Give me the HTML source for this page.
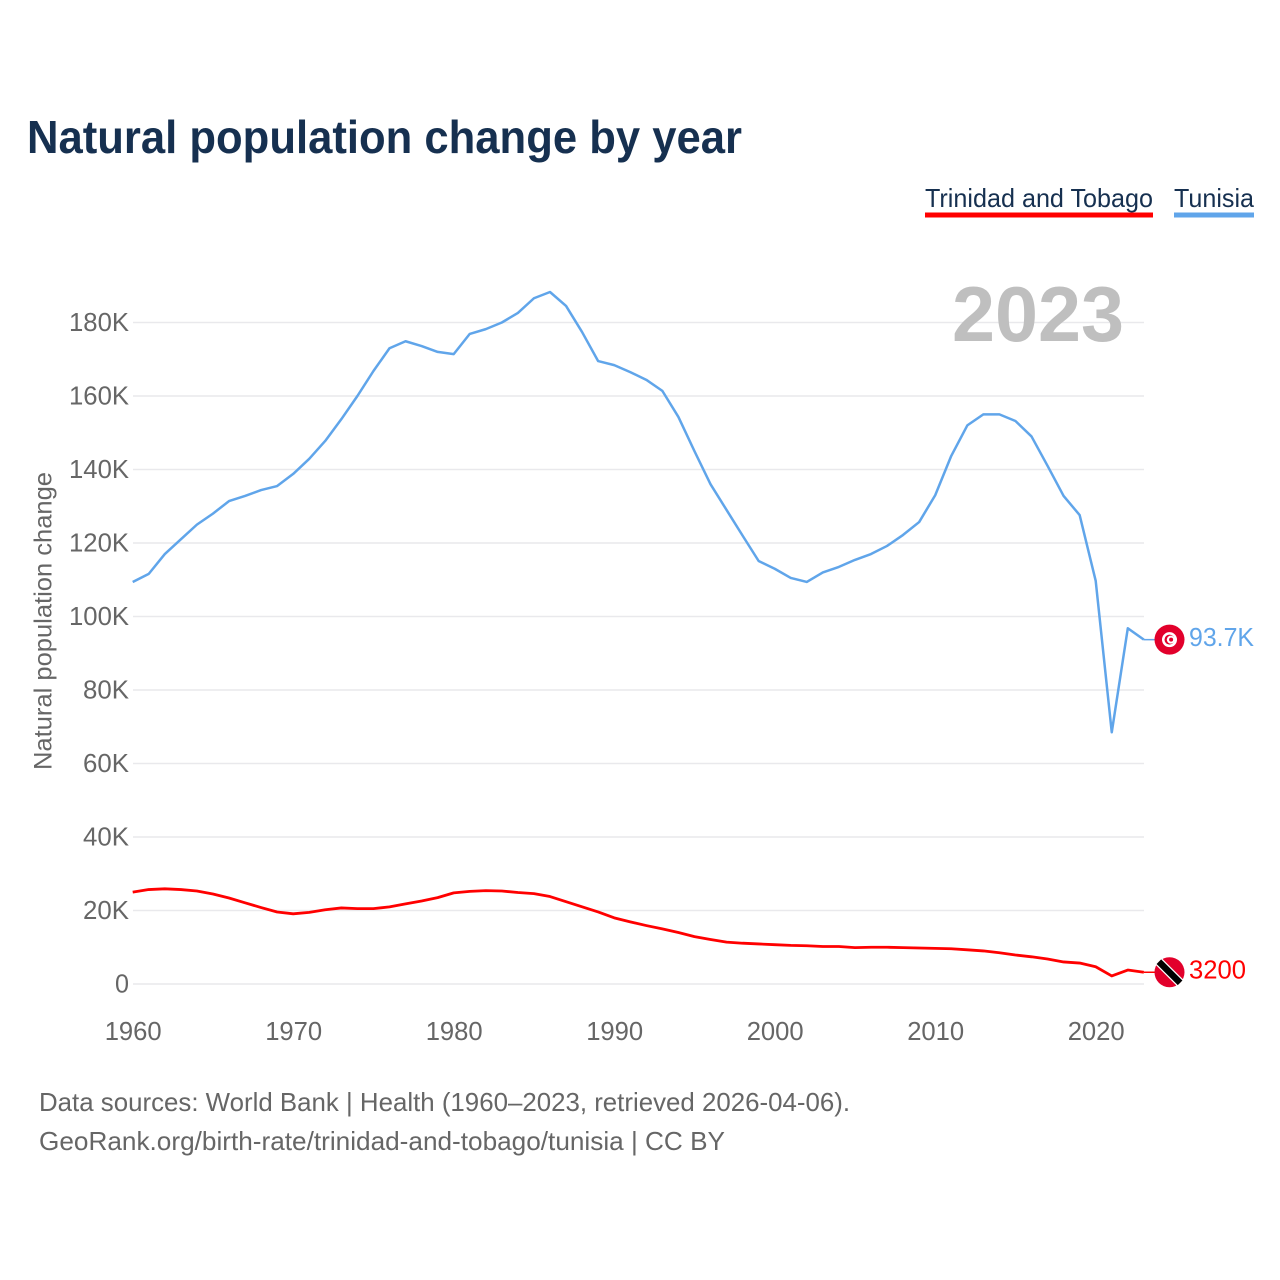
<!DOCTYPE html>
<html lang="en">
<head>
<meta charset="utf-8">
<title>Natural population change by year</title>
<style>
html,body{margin:0;padding:0;background:#fff;width:1280px;height:1280px;overflow:hidden}
svg{display:block;font-family:"Liberation Sans",sans-serif}
</style>
</head>
<body>
<svg id="chart" xmlns="http://www.w3.org/2000/svg" width="1280" height="1280" viewBox="0 0 1280 1280">
  <text x="27" y="153" font-size="46" font-weight="700" fill="#163050" textLength="715" lengthAdjust="spacingAndGlyphs">Natural population change by year</text>

  <g>
    <g>
      <text x="925" y="207" font-size="26" fill="#163050" textLength="228" lengthAdjust="spacingAndGlyphs">Trinidad and Tobago</text>
      <rect x="925" y="212.5" width="228" height="5" fill="#ff0000"/>
    </g>
    <g>
      <text x="1174" y="207" font-size="26" fill="#163050" textLength="80" lengthAdjust="spacingAndGlyphs">Tunisia</text>
      <rect x="1174" y="212.5" width="80" height="5" fill="#60a5ea"/>
    </g>
  </g>

  <g id="grid"></g>
  <g id="y-ticks"></g>
  <g id="x-ticks"></g>

  <text x="952" y="341" font-size="78" font-weight="700" fill="#bfbfbf" textLength="172" lengthAdjust="spacingAndGlyphs">2023</text>

  <text transform="translate(51.5,770) rotate(-90)" x="0" y="0" font-size="25" fill="#666666" textLength="298" lengthAdjust="spacingAndGlyphs">Natural population change</text>

  <g id="series"></g>

  <text x="39" y="1111" font-size="26" fill="#666666" textLength="811" lengthAdjust="spacingAndGlyphs">Data sources: World Bank | Health (1960–2023, retrieved 2026-04-06).</text>
  <text x="39" y="1150" font-size="26" fill="#666666" textLength="686" lengthAdjust="spacingAndGlyphs">GeoRank.org/birth-rate/trinidad-and-tobago/tunisia | CC BY</text>
</svg>

<script>
const startYear = 1960;
const tunisiaValues = [109400,111600,117000,121000,125000,128000,131400,132800,134400,135500,138800,142900,147800,153700,160000,166800,173000,174900,173600,172000,171400,176900,178200,180000,182600,186600,188300,184500,177400,169500,168400,166500,164400,161400,154300,145000,136000,129000,122000,115100,113000,110500,109400,112000,113500,115400,117000,119200,122200,125700,133000,143700,152000,155000,155000,153200,149000,141000,132800,127600,109700,68500,96800,93700];
const trinidadValues = [25000,25700,25900,25700,25300,24500,23400,22100,20800,19600,19100,19500,20200,20700,20500,20500,21000,21800,22600,23500,24800,25200,25400,25300,24900,24600,23800,22400,21000,19600,18000,16900,15900,15000,14000,12900,12100,11400,11100,10900,10700,10500,10400,10200,10200,9900,10000,10000,9900,9800,9700,9600,9300,9000,8500,7900,7400,6800,6000,5700,4700,2200,3800,3200];
const yTickValues = [0,20000,40000,60000,80000,100000,120000,140000,160000,180000];
const yTickLabels = ['0','20K','40K','60K','80K','100K','120K','140K','160K','180K'];
const xTickYears = [1960,1970,1980,1990,2000,2010,2020];
const tunisiaEndLabel = '93.7K';
const trinidadEndLabel = '3200';

const NS = 'http://www.w3.org/2000/svg';
const xScale = year => 132.7 + (year - 1960) * 16.05;
const yScale = value => 984 - value * (661.5 / 180000);

function make(tag, attrs, parent, text) {
  const el = document.createElementNS(NS, tag);
  for (const k in attrs) el.setAttribute(k, attrs[k]);
  if (text !== undefined) el.textContent = text;
  parent.appendChild(el);
  return el;
}

const gridGroup = document.getElementById('grid');
const yTickGroup = document.getElementById('y-ticks');
const xTickGroup = document.getElementById('x-ticks');
const seriesGroup = document.getElementById('series');

yTickValues.forEach((v, i) => {
  const y = yScale(v);
  const line = make('line', {x1: 133, x2: 1144, y1: y, y2: y, stroke: '#e9e9ec', 'stroke-width': 1.5}, gridGroup);
  
  
  const label = yTickLabels[i];
  const t = make('text', {x: 129, y: y + 8.5, 'text-anchor': 'end', 'font-size': 26, fill: '#666666', textLength: label.length === 1 ? 14 : label.length === 3 ? 46 : 60, lengthAdjust: 'spacingAndGlyphs'}, yTickGroup, label);
  
  
});

xTickYears.forEach(year => {
  const t = make('text', {x: xScale(year) + 0.5, y: 1040, 'text-anchor': 'middle', 'font-size': 26, fill: '#666666', textLength: 57, lengthAdjust: 'spacingAndGlyphs'}, xTickGroup, String(year));
  
  
});

function pathFor(values) {
  return values.map((v, i) => (i ? 'L' : 'M') + xScale(startYear + i).toFixed(2) + ' ' + yScale(v).toFixed(2)).join(' ');
}

function drawSeries(values, color, width) {
  const lastX = xScale(startYear + values.length - 1);
  const lastY = yScale(values[values.length - 1]);
  const p = make('path', {d: pathFor(values), fill: 'none', stroke: color, 'stroke-width': width, 'stroke-linejoin': 'round'}, seriesGroup);
  const tail = make('line', {x1: lastX, x2: lastX + 12, y1: lastY, y2: lastY, stroke: color, 'stroke-width': 1.5}, seriesGroup);
  return {path: p, tail, lastX, lastY};
}

const trinidad = drawSeries(trinidadValues, '#ff0000', 2.8);





const tunisia = drawSeries(tunisiaValues, '#60a5ea', 2.5);





const flagX = 1169.5;

// Tunisia flag marker and end label
const tnFlag = make('g', {transform: 'translate(' + flagX + ',' + tunisia.lastY.toFixed(2) + ')'}, seriesGroup);


make('circle', {r: 15, fill: '#e2002b'}, tnFlag);
make('circle', {r: 7.5, fill: '#ffffff'}, tnFlag);
make('circle', {r: 5, fill: '#e2002b'}, tnFlag);
make('circle', {cx: 1.3, r: 4, fill: '#ffffff'}, tnFlag);
make('circle', {cx: 1.6, r: 2, fill: '#e2002b'}, tnFlag);

const tnLabel = make('text', {x: 1189, y: tunisia.lastY + 6.5, 'font-size': 26, fill: '#60a5ea', textLength: 65, lengthAdjust: 'spacingAndGlyphs'}, seriesGroup, tunisiaEndLabel);



// Trinidad and Tobago flag marker and end label
const ttFlag = make('g', {transform: 'translate(' + flagX + ',' + trinidad.lastY.toFixed(2) + ')'}, seriesGroup);


make('circle', {r: 15, fill: '#e2002b'}, ttFlag);
make('line', {x1: -10.6, y1: -10.6, x2: 10.6, y2: 10.6, stroke: '#ffffff', 'stroke-width': 9}, ttFlag);
make('line', {x1: -10.6, y1: -10.6, x2: 10.6, y2: 10.6, stroke: '#000000', 'stroke-width': 6.5}, ttFlag);

const ttLabel = make('text', {x: 1189, y: trinidad.lastY + 6.5, 'font-size': 26, fill: '#ff0000', textLength: 57, lengthAdjust: 'spacingAndGlyphs'}, seriesGroup, trinidadEndLabel);


</script>
</body>
</html>
